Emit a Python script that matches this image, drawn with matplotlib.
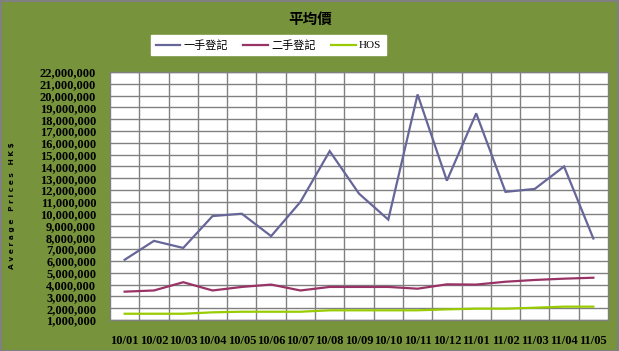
import matplotlib
matplotlib.use("Agg")
import matplotlib.pyplot as plt
from matplotlib.patches import Rectangle
import numpy as np

plt.rcParams['font.family'] = ['Liberation Serif', 'Noto Sans CJK TC', 'DejaVu Sans']

categories = ["10/01", "10/02", "10/03", "10/04", "10/05", "10/06", "10/07", "10/08", "10/09",
              "10/10", "10/11", "10/12", "11/01", "11/02", "11/03", "11/04", "11/05"]
first_hand = [6.1, 7.7, 7.1, 9.8, 10.0, 8.1, 11.0, 15.3, 11.7, 9.5, 20.1, 12.8, 18.5, 11.85, 12.1, 14.0, 7.9]
second_hand = [3.4, 3.5, 4.2, 3.5, 3.8, 4.0, 3.5, 3.8, 3.8, 3.8, 3.65, 4.02, 4.0, 4.24, 4.39, 4.5, 4.58]
hos = [1.53, 1.53, 1.53, 1.65, 1.7, 1.7, 1.7, 1.82, 1.82, 1.82, 1.82, 1.9, 1.96, 1.96, 2.04, 2.13, 2.13]
series_names = ["一手登記", "二手登記", "HOS"]
yticks = list(range(1_000_000, 22_000_001, 1_000_000))

W, H = 619, 351
fig = plt.figure(figsize=(W / 100, H / 100), dpi=100)
fig.patch.set_facecolor('#77933C')
fig.patches.append(Rectangle((0.5 / W, 0.5 / H), 1 - 1.5 / W, 1 - 1.5 / H, transform=fig.transFigure,
                             fill=False, edgecolor='#808080', linewidth=1.5))

L, R, T, B = 110, 608, 72, 320
ax = fig.add_axes([L / W, (H - B) / H, (R - L) / W, (B - T) / H])
ax.set_facecolor('white')

x = np.arange(len(categories))
colors = ['#666699', '#993366', '#99CC00']
for vals, c, name in zip([first_hand, second_hand, hos], colors, series_names):
    ax.plot(x, np.array(vals) * 1e6, color=c, lw=1.6, label=name, solid_joinstyle='miter')

ax.set_xlim(-0.5, len(categories) - 0.5)
ax.set_ylim(yticks[0], yticks[-1])
ax.set_yticks(yticks)
ax.set_yticklabels([f"{v:,}" for v in yticks])
ax.set_xticks(x)
ax.set_xticklabels(categories)
ax.set_xticks(np.arange(0.5, len(categories) - 1, 1), minor=True)
ax.grid(True, which='major', axis='y', color='#808080', lw=1)
ax.grid(True, which='minor', axis='x', color='#808080', lw=1)
ax.set_axisbelow(True)
ax.tick_params(axis='both', which='both', length=0)
ax.tick_params(axis='y', pad=10, labelsize=9)
ax.tick_params(axis='x', pad=11, labelsize=9)
for lab in ax.get_xticklabels() + ax.get_yticklabels():
    lab.set_fontweight('bold')
for s in ax.spines.values():
    s.set_color('#808080')
    s.set_linewidth(1)

fig.text(310 / W, 1 - 19 / H, "平均價", ha='center', va='center', fontsize=10.5, fontweight='bold',
         family=['Noto Sans CJK TC', 'DejaVu Sans'])

leg = fig.legend(loc='center', bbox_to_anchor=(268.5 / W, 1 - 45 / H), ncol=3, frameon=True,
                 fancybox=False, edgecolor='white', facecolor='white', framealpha=1,
                 prop={'family': ['Liberation Serif', 'Noto Sans CJK TC'], 'size': 8},
                 handlelength=2.2, columnspacing=1.4, handletextpad=0.3, borderpad=0.45)

fig.text(12 / W, 1 - 206 / H, "A v e r a g e   P r i c e s   H K $", rotation=90, ha='center', va='center',
         fontsize=5.3, fontweight='bold', family=['DejaVu Sans'])

fig.savefig('out.png', dpi=100, facecolor=fig.get_facecolor())
